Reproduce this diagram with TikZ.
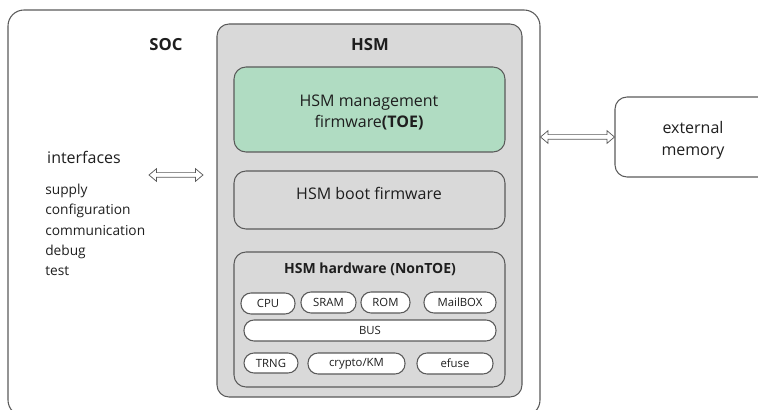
\documentclass[tikz,border=0pt]{standalone}
\usepackage{fontspec}
\setmainfont{Open Sans}
\usetikzlibrary{fit,shapes.arrows,calc}
\definecolor{edge}{HTML}{5A5A5A}
\definecolor{hsmgray}{HTML}{D9D9D9}
\definecolor{toegreen}{HTML}{B0DCC2}
\definecolor{txt}{HTML}{1E1E1E}
\tikzset{
  box/.style={draw=edge, line width=0.8pt, inner sep=0pt, rounded corners=9pt},
  pill/.style={draw=edge, line width=0.8pt, fill=white, inner sep=0pt, rounded corners=7.5pt},
  lbl/.style={text=txt, inner sep=0pt, align=center},
  pilltext/.style={lbl, font=\fontsize{8.5}{10}\selectfont},
  dblarrow/.style={double arrow, draw=edge, fill=white, line width=0.55pt,
    inner xsep=0pt, inner ysep=1.5pt, double arrow head extend=3pt,
    double arrow tip angle=80, anchor=center},
}
\begin{document}
\begin{tikzpicture}[x=0.75pt,y=-0.75pt]
\useasboundingbox (0,0) rectangle (758,410);
\clip (0,0) rectangle (758,410);
% SOC
\node[box, rounded corners=12pt, fit={(8,10) (540,416)}] (soc) {};
\node[lbl, font=\fontsize{12.5}{15}\selectfont\bfseries] (soct) at (166,45) {SOC};
% HSM
\node[box, fill=hsmgray, fit={(217,24) (522,397)}] (hsm) {};
\node[lbl, font=\fontsize{12.5}{15}\selectfont\bfseries] (hsmt) at (370,45) {HSM};
\node[box, fill=toegreen, fit={(234,67) (505,152)}] (toe) {};
\node[lbl, font=\fontsize{12}{16}\selectfont] (toet) at (369,112.5) {HSM management\\firmware\textbf{(TOE)}};
\node[box, fill=hsmgray, fit={(234,171) (505,229)}] (boot) {};
\node[lbl, font=\fontsize{12}{15}\selectfont] (boott) at (369,193) {HSM boot firmware};
\node[box, fill=hsmgray, fit={(234,252) (505,387)}] (hw) {};
\node[lbl, font=\fontsize{10.5}{12}\selectfont\bfseries] (hwt) at (370,269) {HSM hardware (NonTOE)};
% pills
\node[pill, fit={(241,293) (295,314)}] (cpu) {};
\node[pilltext] (cput) at (cpu) {CPU};
\node[pill, fit={(301,292) (356,313)}] (sram) {};
\node[pilltext] (sramt) at (sram) {SRAM};
\node[pill, fit={(361,292) (410,313)}] (rom) {};
\node[pilltext] (romt) at (rom) {ROM};
\node[pill, fit={(424,292) (496,313)}] (mb) {};
\node[pilltext] (mbt) at (mb) {MailBOX};
\node[pill, fit={(244,320) (496,341)}] (bus) {};
\node[pilltext] (bust) at (bus) {BUS};
\node[pill, fit={(244,353) (298,373)}] (trng) {};
\node[pilltext] (trngt) at (trng) {TRNG};
\node[pill, fit={(308,353) (405,374)}] (crypto) {};
\node[pilltext] (cryptot) at (crypto) {crypto/KM};
\node[pill, fit={(417,353) (493,374)}] (efuse) {};
\node[pilltext] (efuset) at (efuse) {efuse};
% interfaces
\node[lbl, font=\fontsize{12}{15}\selectfont] (intf) at (84,157) {interfaces};
\node[lbl, anchor=north west, align=left, font=\fontsize{10.3}{15.2}\selectfont] (list) at (45,184) {supply\\configuration\\communication\\debug\\test};
% external memory
\node[box, fit={(615,97) (771,177)}] (ext) {};
\node[lbl, font=\fontsize{12}{16}\selectfont] (extt) at (693,140.5) {external\\memory};
% connectors (hollow double arrows)
\node[dblarrow, minimum height=54*0.75pt] (larrow) at (176,175) {};
\node[dblarrow, minimum height=74*0.75pt] (rarrow) at ($(soc.east |- ext.west)!0.5!(ext.west)$) {};
\end{tikzpicture}
\end{document}
